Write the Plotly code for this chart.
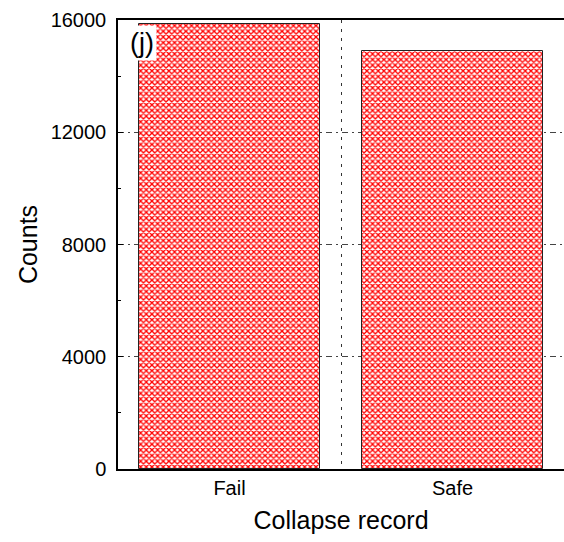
import plotly.graph_objects as go

categories = ["Fail", "Safe"]
counts = [15870, 14890]
y_ticks = [0, 4000, 8000, 12000, 16000]
y_tick_labels = ["0", "4000", "8000", "12000", "16000"]

positions = list(range(len(categories)))

fig = go.Figure()
fig.add_trace(go.Bar(
    x=positions,
    y=counts,
    width=0.81,
    marker=dict(
        color="white",
        line=dict(color="#222222", width=1),
        pattern=dict(shape="x", fgcolor="#ff0000", bgcolor="white",
                     size=4, solidity=0.55, fillmode="replace"),
    ),
    showlegend=False,
))

font_family = "Liberation Sans, Arial, sans-serif"

fig.update_layout(
    width=564, height=542,
    margin=dict(l=118, r=0, t=20, b=73),
    paper_bgcolor="white",
    plot_bgcolor="white",
    font=dict(family=font_family, color="black"),
    bargap=0,
)

fig.update_xaxes(
    range=[-0.5, 1.5],
    tickvals=positions,
    ticktext=categories,
    tickfont=dict(size=20),
    showgrid=False,
    zeroline=False,
    showline=True, linecolor="black", linewidth=1.5,
    mirror=True,
    ticks="",
    minor=dict(tickvals=[0.5], showgrid=True, gridcolor="#333333",
               griddash="3px,6px", gridwidth=1, ticks=""),
    title=dict(text="Collapse record", font=dict(size=25), standoff=14),
)

fig.update_yaxes(
    range=[0, 16000],
    tickvals=y_ticks,
    ticktext=y_tick_labels,
    tickfont=dict(size=20),
    ticklabelstandoff=6,
    showgrid=True, gridcolor="#444444", griddash="6px,4px,2px,4px", gridwidth=1,
    zeroline=False,
    showline=True, linecolor="black", linewidth=1.5,
    ticks="inside", ticklen=5, tickcolor="black",
    minor=dict(dtick=2000, ticks="inside", ticklen=3, tickcolor="black", showgrid=False),
    title=dict(text="Counts", font=dict(size=25), standoff=6),
)

fig.add_annotation(
    text="(j)", xref="paper", yref="paper", x=0.02, y=0.988,
    xanchor="left", yanchor="top", showarrow=False,
    font=dict(size=27, family=font_family, color="black"),
    bgcolor="white", borderpad=2,
)

fig.write_html("out.html")
